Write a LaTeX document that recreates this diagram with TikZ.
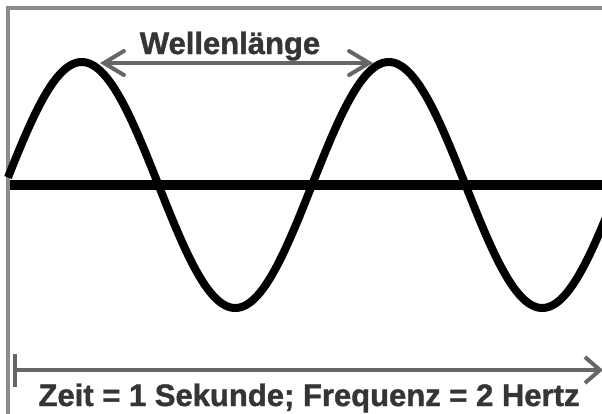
\documentclass[tikz,border=0pt]{standalone}
\usepackage{fontspec}
\setmainfont{Liberation Sans}[BoldFeatures={FakeBold=1.3}]
\usetikzlibrary{arrows.meta}
\definecolor{framegray}{HTML}{8C8C8C}
\definecolor{arrowgray}{HTML}{666666}
\definecolor{labelgray}{HTML}{353535}
\tikzset{
	frameline/.style={draw=framegray, line width=4pt},
	axisline/.style={draw=black, line width=10pt},
	waveline/.style={draw=black, line width=8pt, line join=round},
	dimarrow/.style={draw=arrowgray, line width=4pt,
		{Straight Barb[length=20pt, width=24pt, line cap=round]}-{Straight Barb[length=20pt, width=24pt, line cap=round]}},
	timearrow/.style={draw=arrowgray, line width=4pt,
		{Bar[width=33pt]}-{Straight Barb[length=15pt, width=26pt]}},
	biglabel/.style={text=labelgray, font=\fontsize{31}{37}\selectfont\bfseries, inner sep=0pt}
}
\begin{document}
\begin{tikzpicture}[x=1pt, y=-1pt]
			\useasboundingbox (0,0) rectangle (602,413);
			\clip (0,0) rectangle (602,413);
			% frame, cut off at right and bottom
			\draw[frameline] (8,420) -- (8,8) -- (610,8);
			% time axis with the wave
			\draw[axisline] (10,185) -- (610,185);
			\draw[waveline] plot[domain=8:612, samples=240, smooth]
				({\x},{185-123*sin(1.17264*(\x-5))});
			% wavelength between the two crests
			\coordinate (crestA) at (100,63);
			\coordinate (crestB) at (373,63);
			\draw[dimarrow] (crestA) -- (crestB);
			\node[biglabel, anchor=base] (wavelabel) at (230,54) {Wellenlänge};
			% one second on the time axis
			\coordinate (tstart) at (13,370);
			\coordinate (tend) at (603,370);
			\draw[timearrow] (tstart) -- (tend);
			\node[biglabel, anchor=base] (timelabel) at (309,406)
				{Zeit = 1 Sekunde; Frequenz = 2 Hertz};
		\end{tikzpicture}
\end{document}
